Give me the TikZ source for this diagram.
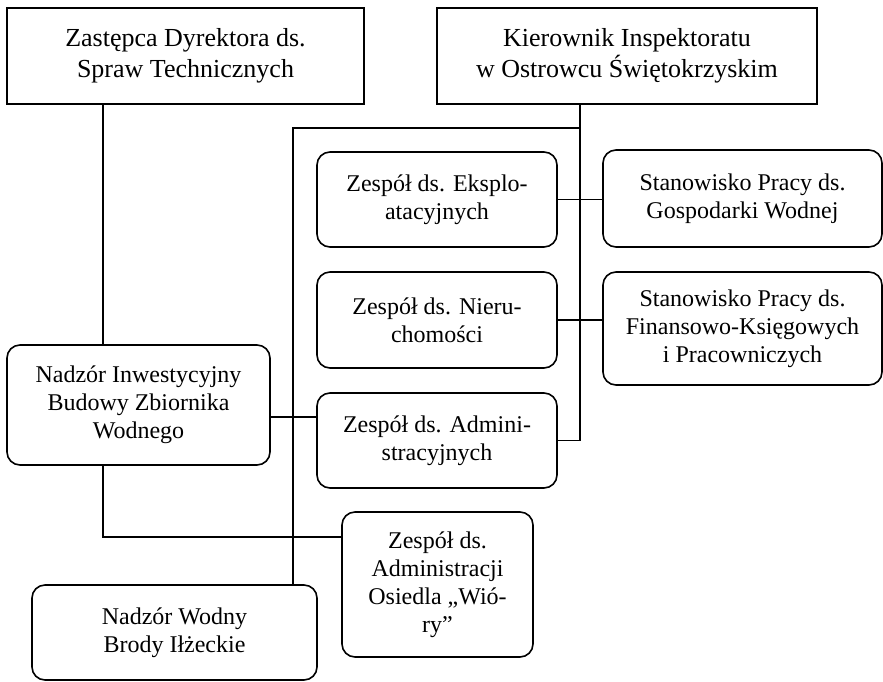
\documentclass[tikz,border=0pt]{standalone}
\usepackage{fontspec}
\setmainfont{Liberation Serif}
\begin{document}
\begin{tikzpicture}[x=1pt, y=-1pt, line width=1.6pt,
  box/.style={draw, align=center, inner sep=0pt, font=\fontsize{24}{28}\selectfont},
  topbox/.style={box, font=\fontsize{26}{31}\selectfont},
  rbox/.style={box, rounded corners=13pt}]
\useasboundingbox (0,0) rectangle (883,681);
\node[topbox, minimum width=357pt, minimum height=96pt] (zast) at (185.5,56) {Zastępca Dyrektora ds.\\Spraw Technicznych};
\node[topbox, minimum width=380pt, minimum height=96pt] (kier) at (627,56) {Kierownik Inspektoratu\\w Ostrowcu Świętokrzyskim};
\node[rbox, minimum width=240pt, minimum height=95pt] (eksp) at (437,199.5) {Zespół ds. Eksplo-\\atacyjnych};
\node[rbox, minimum width=240pt, minimum height=96pt] (nier) at (437,320) {Zespół ds. Nieru-\\chomości};
\node[rbox, minimum width=240pt, minimum height=95pt] (admi) at (437,440.5) {Zespół ds. Admini-\\stracyjnych};
\node[rbox, minimum width=279pt, minimum height=97pt] (gosp) at (742.5,198.5) {Stanowisko Pracy ds.\\Gospodarki Wodnej};
\node[rbox, minimum width=279pt, minimum height=113pt] (fin) at (742.5,328.5) {Stanowisko Pracy ds.\\Finansowo-Księgowych\\i Pracowniczych};
\node[rbox, minimum width=263pt, minimum height=120pt] (inw) at (138.5,405) {Nadzór Inwestycyjny\\Budowy Zbiornika\\Wodnego};
\node[rbox, minimum width=191pt, minimum height=145pt] (osie) at (437.5,584.5) {Zespół ds.\\Administracji\\Osiedla „Wió-\\ry”};
\node[rbox, minimum width=285pt, minimum height=95pt] (wodn) at (174.5,632.5) {Nadzór Wodny\\Brody Iłżeckie};
% pionowe linie
\coordinate (ta) at (103,0);
\coordinate (tb) at (580,0);
\coordinate (tc) at (293,128);
\draw (ta |- zast.south) -- (ta |- inw.north);
\draw (ta |- inw.south) |- (osie.west |- 0,537);
\draw (tb |- kier.south) -- (tb |- admi.east) -- (admi.east);
\draw (tb |- tc) -- (tc) -- (tc |- wodn.north);
% odgalezienia
\draw (eksp.east) -- (gosp.west |- eksp.east);
\draw (nier.east) -- (fin.west |- nier.east);
\draw (inw.east |- 0,417) -- (admi.west |- 0,417);
\end{tikzpicture}
\end{document}
